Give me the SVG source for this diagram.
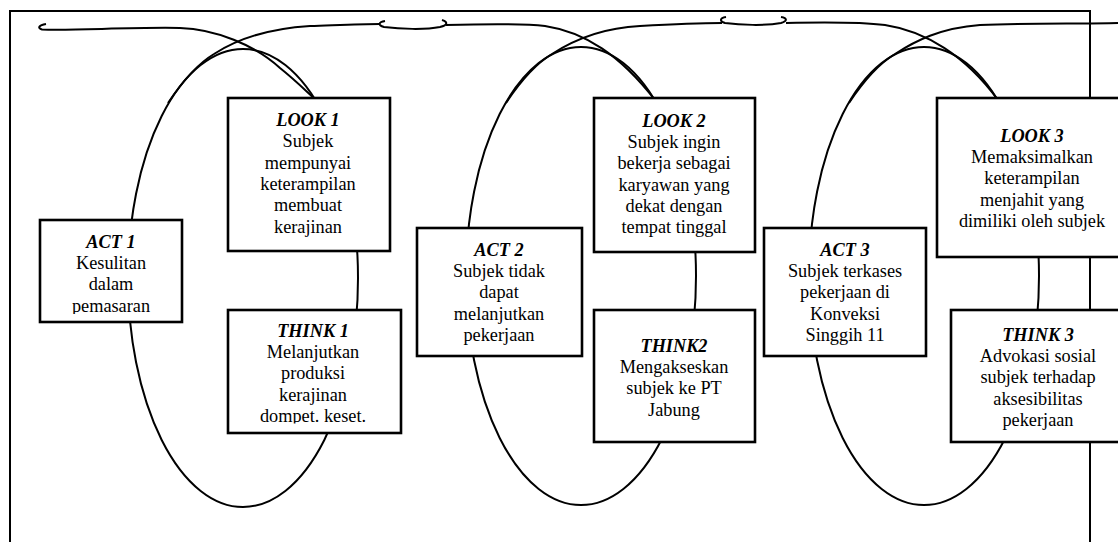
<svg xmlns="http://www.w3.org/2000/svg" width="1118" height="542" viewBox="0 0 1118 542">
<style>
.frame{fill:none;stroke:#000;stroke-width:2}
.loop{fill:none;stroke:#000;stroke-width:2}
.box{fill:#fff;stroke:#000;stroke-width:2.6}
.t{font-family:"Liberation Serif","Times New Roman",serif;font-size:18.3px;fill:#000;text-anchor:middle}
.h{font-weight:bold;font-style:italic}
</style>
<defs>
<clipPath id="clipAct1"><rect x="40" y="220" width="142" height="94"/></clipPath>
<clipPath id="clipThink1"><rect x="228" y="310" width="173" height="113.5"/></clipPath>
</defs>
<rect width="1118" height="542" fill="#fff"/>
<path class="frame" d="M10,542 V11 H1090 V542"/>
<g id="connectors">
<ellipse class="loop" cx="243" cy="278" rx="115" ry="229"/>
<ellipse class="loop" cx="581" cy="276" rx="115" ry="229"/>
<ellipse class="loop" cx="924" cy="276" rx="115" ry="229"/>
<path class="loop" d="M46,24 C39,25 37,28 42,29.5 C70,31 130,27 180,28 C215,29 255,45 280,68 C295,80 305,90 316,100"/>
<path class="loop" d="M168,103 C184,79 199,63 214,54 C234,41 262,29 310,26 C340,25 360,24 380,24"/>
<path class="loop" d="M385,21 C379,22 377,25 384,27 C400,29 425,30 440,27 C448,25 448,22 442,20"/>
<path class="loop" d="M446,25 C480,24 520,23 545,26 C585,32 620,55 655,100"/>
<path class="loop" d="M506,103 C522,79 537,63 552,54 C572,41 600,28 640,26 C675,24 700,23 722,23"/>
<path class="loop" d="M726,17 C720,18 719,21 725,23 C740,25 765,26 781,23 C788,21 787,18 781,17"/>
<path class="loop" d="M786,23 C830,22 860,22 885,25 C925,31 965,55 998,100"/>
<path class="loop" d="M849,103 C865,79 880,63 895,54 C915,41 940,28 980,25 C1030,23 1080,24 1118,23"/>
</g>
<g id="act1">
<rect class="box" x="40" y="220" width="142" height="102"/>
<text class="t" clip-path="url(#clipAct1)"><tspan class="h" x="111" y="247.7">ACT 1</tspan><tspan x="111" dy="21.3">Kesulitan</tspan><tspan x="111" dy="21.3">dalam</tspan><tspan x="111" dy="21.3">pemasaran</tspan></text>
</g>
<g id="look1">
<rect class="box" x="228" y="98" width="162" height="153"/>
<text class="t"><tspan class="h" x="308" y="126">LOOK 1</tspan><tspan x="308" dy="21.3">Subjek</tspan><tspan x="308" dy="21.3">mempunyai</tspan><tspan x="308" dy="21.3">keterampilan</tspan><tspan x="308" dy="21.3">membuat</tspan><tspan x="308" dy="21.3">kerajinan</tspan></text>
</g>
<g id="think1">
<rect class="box" x="228" y="310" width="173" height="123"/>
<text class="t" clip-path="url(#clipThink1)"><tspan class="h" x="313" y="336.7">THINK 1</tspan><tspan x="313" dy="21.3">Melanjutkan</tspan><tspan x="313" dy="21.3">produksi</tspan><tspan x="313" dy="21.3">kerajinan</tspan><tspan x="313" dy="21.3">dompet. keset.</tspan></text>
</g>
<g id="act2">
<rect class="box" x="417" y="228" width="165" height="128"/>
<text class="t"><tspan class="h" x="499" y="255.7">ACT 2</tspan><tspan x="499" dy="21.3">Subjek tidak</tspan><tspan x="499" dy="21.3">dapat</tspan><tspan x="499" dy="21.3">melanjutkan</tspan><tspan x="499" dy="21.3">pekerjaan</tspan></text>
</g>
<g id="look2">
<rect class="box" x="594" y="98" width="161" height="154"/>
<text class="t"><tspan class="h" x="674" y="126.7">LOOK 2</tspan><tspan x="674" dy="21.3">Subjek ingin</tspan><tspan x="674" dy="21.3">bekerja sebagai</tspan><tspan x="674" dy="21.3">karyawan yang</tspan><tspan x="674" dy="21.3">dekat dengan</tspan><tspan x="674" dy="21.3">tempat tinggal</tspan></text>
</g>
<g id="think2">
<rect class="box" x="594" y="310" width="161" height="132"/>
<text class="t"><tspan class="h" x="674" y="351.7">THINK2</tspan><tspan x="674" dy="21.3">Mengakseskan</tspan><tspan x="674" dy="21.3">subjek ke PT</tspan><tspan x="674" dy="21.3">Jabung</tspan></text>
</g>
<g id="act3">
<rect class="box" x="764" y="228" width="162" height="128"/>
<text class="t"><tspan class="h" x="845" y="255.7">ACT 3</tspan><tspan x="845" dy="21.3">Subjek terkases</tspan><tspan x="845" dy="21.3">pekerjaan di</tspan><tspan x="845" dy="21.3">Konveksi</tspan><tspan x="845" dy="21.3">Singgih 11</tspan></text>
</g>
<g id="look3">
<rect class="box" x="937" y="98" width="190" height="159"/>
<text class="t"><tspan class="h" x="1032" y="141.7">LOOK 3</tspan><tspan x="1032" dy="21.3">Memaksimalkan</tspan><tspan x="1032" dy="21.3">keterampilan</tspan><tspan x="1032" dy="21.3">menjahit yang</tspan><tspan x="1032" dy="21.3">dimiliki oleh subjek</tspan></text>
</g>
<g id="think3">
<rect class="box" x="951" y="310" width="175" height="132"/>
<text class="t"><tspan class="h" x="1038" y="340.7">THINK 3</tspan><tspan x="1038" dy="21.3">Advokasi sosial</tspan><tspan x="1038" dy="21.3">subjek terhadap</tspan><tspan x="1038" dy="21.3">aksesibilitas</tspan><tspan x="1038" dy="21.3">pekerjaan</tspan></text>
</g>
</svg>
